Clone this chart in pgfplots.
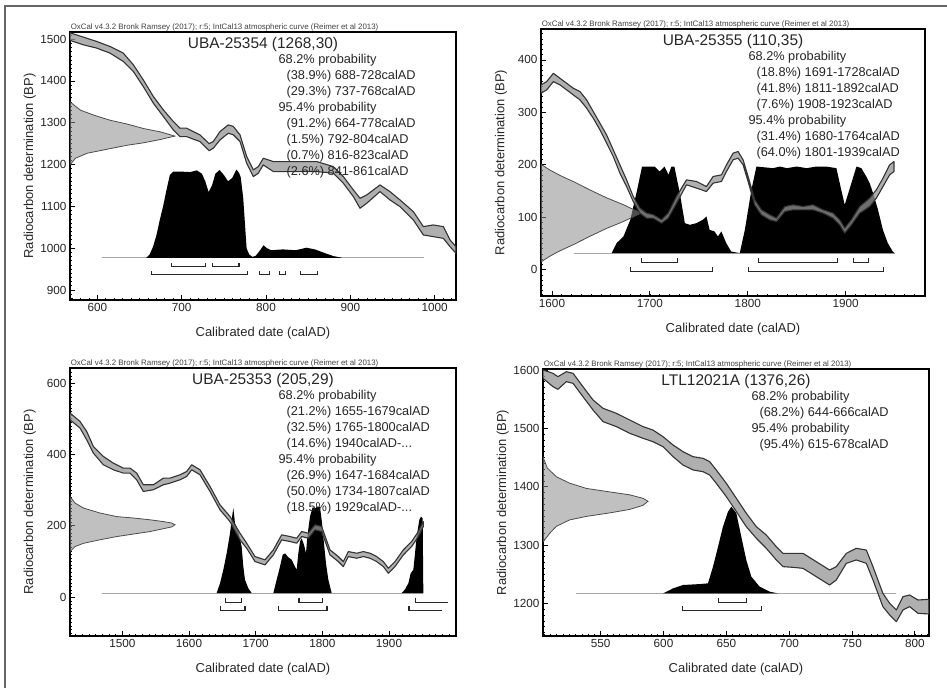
\documentclass[border=0pt]{standalone}
\usepackage{fontspec}
\setmainfont{Liberation Sans}
\usepackage{pgfplots}
\usepackage{pgfplotstable}
\pgfplotsset{compat=1.18}

% calibration curve bands as outlines: upper edge left to right, then lower edge back
\pgfplotstableread{
x y
567.6 1515
583.4 1504.8
599.2 1494.4
615.0 1482.4
630.8 1466.5
642.7 1438.5
654.5 1402.6
666.4 1362.7
678.3 1330.8
690.1 1302.9
698.0 1286.9
705.9 1286.9
713.8 1278.9
721.7 1270.9
732.5 1250.0
737.5 1255.0
745.5 1278.9
755.3 1294.9
761.3 1291.0
769.2 1270.9
777.1 1219.1
785.0 1187.2
790.9 1195.1
796.8 1215.1
808.7 1207.1
820.6 1207.1
840.3 1207.1
860.1 1207.1
879.8 1195.1
891.7 1171.2
903.6 1139.3
911.5 1119.3
919.4 1127.3
935.2 1151.2
947.0 1135.3
958.9 1115.3
974.7 1087.4
986.6 1051.5
998.4 1055.5
1010.3 1051.5
1018.2 1019.6
1025.3 1003.6
1025.3 987.6
1018.2 1003.6
1010.3 1023.5
998.4 1027.5
986.6 1031.5
974.7 1067.4
958.9 1099.4
947.0 1115.3
935.2 1135.3
919.4 1107.3
911.5 1095.4
903.6 1123.3
891.7 1155.2
879.8 1179.2
860.1 1183.2
840.3 1183.2
820.6 1183.2
808.7 1183.2
796.8 1199.1
790.9 1179.2
785.0 1171.2
777.1 1203.1
769.2 1255.0
761.3 1271.0
755.3 1274.9
745.5 1258.9
737.5 1239.0
732.5 1233.0
721.7 1255.0
713.8 1260.6
705.9 1266.9
698.0 1266.9
690.1 1282.9
678.3 1314.8
666.4 1346.8
654.5 1386.6
642.7 1422.6
630.8 1446.5
615.0 1466.5
599.2 1478.5
583.4 1486.4
567.6 1497
}\calA

\pgfplotstableread{
x y
1588.8 352.4
1594.6 358.7
1601.4 374.6
1608.2 365
1615 355.6
1621.8 346
1628.6 339.7
1635.4 323.8
1642.2 301.6
1649 279.4
1655.8 257.1
1662.6 228.6
1669.4 200
1676.2 171.4
1683 139.7
1689.8 117.5
1696.6 108
1703.4 104.8
1711.9 95.2
1718.7 108
1727.2 139.7
1737.4 171.4
1747.6 168.3
1757.8 158.7
1764.6 177.8
1773.1 181
1778.2 200
1785 222.2
1790.1 225.4
1795.2 209.5
1800.3 177.8
1807.1 133.3
1813.9 114.3
1822.4 104.8
1829.3 98.4
1837.8 120.6
1846.3 123.8
1856.5 120.6
1866.7 123.8
1876.9 114.3
1887.1 108
1893.9 95.2
1899 79.4
1905.8 95.2
1914.3 120.6
1924.5 136.5
1931.3 152.4
1938.1 174.6
1944.9 200
1949.3 206.3
1949.3 187.3
1944.9 181
1938.1 158.7
1931.3 136.5
1924.5 120.6
1914.3 108
1905.8 85.7
1899 69.8
1893.9 85.7
1887.1 98.4
1876.9 108
1866.7 114.3
1856.5 114.3
1846.3 114.3
1837.8 111.1
1829.3 92.1
1822.4 95.2
1813.9 104.8
1807.1 123.8
1800.3 168.3
1795.2 200
1790.1 212.7
1785 209.5
1778.2 187.3
1773.1 168.3
1764.6 165.1
1757.8 149.2
1747.6 155.6
1737.4 162
1727.2 127
1718.7 98.4
1711.9 88.9
1703.4 98.4
1696.6 98.4
1689.8 108
1683 130.2
1676.2 158.7
1669.4 184.1
1662.6 215.9
1655.8 241.3
1649 266.7
1642.2 288.9
1635.4 308
1628.6 323.8
1621.8 333.3
1615 342.9
1608.2 352.4
1601.4 358.7
1594.6 342.9
1588.8 336.5
}\calB

\pgfplotstableread{
x y
1421.5 515.9
1436.5 492.5
1446.5 464.5
1456.5 422.4
1471.5 394.4
1486.5 375.7
1501.5 361.7
1511.5 361.7
1521.5 347.7
1531.5 315
1546.5 315
1561.5 333.6
1571.5 333.6
1586.5 343
1596.5 352.3
1604 371
1616.5 357
1631.5 310.3
1646.5 258.9
1661.5 226.2
1676.5 179.4
1686.5 151.4
1699 114
1714 104.7
1726.5 132.7
1739 174.8
1751.5 170.1
1761.5 165.4
1769 184.1
1779 179.4
1789 202.8
1799 198.1
1811.5 132.7
1824 114
1831.5 100
1839 128
1851.5 123.4
1861.5 128
1871.5 123.4
1881.5 114
1891.5 100
1899 81.3
1909 100
1921.5 132.7
1934 156.1
1944 184.1
1951.5 212.1
1951.5 198.1
1944 170.1
1934 142.1
1921.5 118.7
1909 86
1899 67.3
1891.5 86
1881.5 100
1871.5 109.3
1861.5 114
1851.5 109.3
1839 114
1831.5 86
1824 100
1811.5 118.7
1799 184.1
1789 188.8
1779 165.4
1769 170.1
1761.5 151.4
1751.5 156.1
1739 160.7
1726.5 118.7
1714 90.7
1699 100
1686.5 137.4
1676.5 160.7
1661.5 212.1
1646.5 244.9
1631.5 296.3
1616.5 343
1604 357
1596.5 338.3
1586.5 329
1571.5 319.6
1561.5 315
1546.5 301
1531.5 296.3
1521.5 329
1511.5 347.7
1501.5 347.7
1486.5 357
1471.5 371
1456.5 403.7
1446.5 441.1
1436.5 473.8
1421.5 497.2
}\calC

\pgfplotstableread{
x y
504.1 1600
512 1594.3
516 1588.6
522.7 1597.1
528 1594.3
535.9 1571.4
543.9 1548.6
551.9 1534.3
562.5 1525.7
573.1 1514.3
583.7 1502.9
591.6 1497.1
599.6 1485.7
607.6 1471.4
615.5 1460
623.5 1451.4
631.4 1448.6
636.7 1442.9
642 1428.6
650 1405.7
658 1380
665.9 1354.3
673.9 1331.4
681.8 1317.1
689.8 1297.1
695.1 1285.7
703 1285.7
711 1285.7
721.6 1271.4
732.2 1257.1
737.5 1262.9
745.5 1285.7
753.4 1294.3
761.4 1291.4
766.7 1262.9
774.6 1217.1
780 1200
785.3 1188.6
790.6 1211.4
795.9 1214.3
802.5 1205.7
811.3 1206.9
811.3 1181.7
802.5 1182.9
795.9 1194.3
790.6 1188.6
785.3 1168.6
780 1180
774.6 1194.3
766.7 1240
761.4 1268.6
753.4 1274.3
745.5 1268.6
737.5 1240
732.2 1231.4
721.6 1245.7
711 1260
703 1261.7
695.1 1262.9
689.8 1274.3
681.8 1294.3
673.9 1311.4
665.9 1331.4
658 1357.1
650 1382.9
642 1405.7
636.7 1420
631.4 1425.7
623.5 1428.6
615.5 1437.1
607.6 1451.4
599.6 1468.6
591.6 1477.1
583.7 1482.9
573.1 1491.4
562.5 1502.9
551.9 1511.4
543.9 1531.4
535.9 1554.3
528 1577.1
522.7 1580
516 1566.9
512 1571.4
504.1 1585.7
}\calD

\pgfplotsset{
  oxcal/.style={
    scale only axis,
    clip mode=individual,
    axis line style={line width=1.3bp},
    tick align=inside, tick pos=left,
    major tick length=4.5bp, minor tick length=2.3bp,
    tick style={line width=0.8bp, black},
    minor tick style={line width=0.6bp},
    tick label style={font=\fontsize{11.8}{13}\selectfont, text=black!85},
    /pgf/number format/assume math mode=true,
    /pgf/number format/1000 sep={},
    label style={font=\fontsize{13}{15}\selectfont, text=black!85},
    xlabel={Calibrated date (calAD)},
    ylabel={Radiocarbon determination (BP)},
    xlabel style={at={(axis description cs:0.5,-0.123)}, anchor=center},
    ylabel style={at={(axis description cs:-0.104,0.5)}, anchor=center},
  },
  band/.style={fill=black!42, fill opacity=0.75, draw=black!80, line width=1.1bp, line join=round},
  gauss/.style={fill=black!45, fill opacity=0.55, draw=black!70, line width=0.8bp},
  baseln/.style={black!35, line width=0.8bp},
  brk/.style={black!85, line width=1.1bp},
}

\newcommand{\bracket}[4]{\addplot[brk] coordinates {(#1,#4) (#1,#3) (#2,#3) (#2,#4)};}
\newcommand{\header}{\node[anchor=south west, font=\fontsize{7.9}{8}\selectfont, text=black!75, inner sep=0.6bp]
  at (rel axis cs:0,1) {OxCal v4.3.2 Bronk Ramsey (2017); r:5; IntCal13 atmospheric curve (Reimer et al 2013)};}
\newcommand{\ptitle}[1]{\node[font=\fontsize{15.5}{17}\selectfont, text=black!85, inner sep=0pt] at (rel axis cs:0.5,1) [yshift=-13bp] {#1};}
\newcommand{\pline}[3]{\node[anchor=west, font=\fontsize{12.8}{14}\selectfont, text=black!85, inner sep=0pt] at (rel axis cs:0.54,1) [xshift=#1, yshift=#2] {#3};}

\begin{document}
\begin{tikzpicture}
\useasboundingbox (0,0) rectangle (947bp,688bp);
\draw[black!60, line width=2bp] (5bp,-2bp) -- (5bp,682bp) -- (950bp,682bp);

% ---------- UBA-25354 ----------
\begin{axis}[oxcal, at={(70bp,388bp)}, anchor=south west, width=386bp, height=268bp,
  xmin=567.6, xmax=1025.3, ymin=876, ymax=1517,
  xtick={600,700,...,1000}, ytick={900,1000,...,1500},
  minor xtick={570,580,...,1020}, minor ytick={880,890,...,1510}]
\addplot[baseln] coordinates {(605,977) (987,977)};
\addplot[fill=black, draw=none] coordinates {
(658,977) (662,985) (666,1003) (670,1030) (674,1067) (678,1100) (682,1139) (686,1175) (690,1183)
(700,1183) (710,1182) (718,1186) (724,1178) (728,1160) (732,1134) (736,1150) (740,1178) (745,1187)
(750,1175) (755,1160) (760,1168) (765,1188) (768,1180) (770,1170) (773,1120) (775,1060) (777,1000)
(780,985) (784,979) (788,982) (793,995) (797,1007) (801,1000) (806,995) (820,997) (835,995)
(848,1001) (858,997) (870,988) (880,981) (890,977)};
\addplot[gauss] coordinates {
(567.6,1350) (580,1330) (596,1318) (615,1306) (635,1297) (655,1286) (675,1278) (692,1268)
(675,1260) (655,1252) (635,1246) (615,1238) (588,1227) (574,1215) (567.6,1199)};
\addplot[band] table {\calA};
\bracket{688}{728}{956}{964}
\bracket{737}{768}{956}{964}
\bracket{664}{778}{936}{945}
\bracket{792}{804}{936}{945}
\bracket{816}{823}{936}{945}
\bracket{841}{861}{936}{945}
\header
\ptitle{UBA-25354 (1268,30)}
\pline{0bp}{-28bp}{68.2\% probability}
\pline{8bp}{-44bp}{(38.9\%) 688-728calAD}
\pline{8bp}{-60bp}{(29.3\%) 737-768calAD}
\pline{0bp}{-76bp}{95.4\% probability}
\pline{8bp}{-92bp}{(91.2\%) 664-778calAD}
\pline{8bp}{-108bp}{(1.5\%) 792-804calAD}
\pline{8bp}{-124bp}{(0.7\%) 816-823calAD}
\pline{8bp}{-140bp}{(2.6\%) 841-861calAD}
\end{axis}

% ---------- UBA-25355 ----------
\begin{axis}[oxcal, at={(541bp,392bp)}, anchor=south west, width=384bp, height=267bp,
  xmin=1588.8, xmax=1981, ymin=-50, ymax=459,
  xtick={1600,1700,1800,1900}, ytick={0,100,...,400},
  minor xtick={1590,1600,...,1980}, minor ytick={-40,-30,...,450}]
\addplot[baseln] coordinates {(1622,31.7) (1950,31.7)};
\addplot[fill=black, draw=none] coordinates {
(1661,31.7) (1666,50.8) (1673,63.5) (1680,95.2) (1687,152.4) (1692,196.8) (1700,196.8) (1705,196.8)
(1710,187.3) (1715,196.8) (1719,181) (1722,196.8) (1725,196.8) (1730.6,146) (1735.7,88.9)
(1740.8,85.7) (1747.6,88.9) (1754,95.2) (1757.8,101.6) (1761,76.2) (1766,73) (1769.5,63.5)
(1773,73) (1778,50.8) (1783,34.9) (1791.8,31.7) (1797,76.2) (1803.7,152.4) (1808.8,196.8)
(1825.8,193.7) (1832.6,196.8) (1840,193.7) (1850,196.8) (1860,193.7) (1870,196.8) (1880,196.8)
(1890.5,193.7) (1893.9,165.1) (1899,123.8) (1905.8,165.1) (1911,196.8) (1916,193.7) (1921,177.8)
(1924.5,165.1) (1928,146) (1933,114.3) (1938,76.2) (1943,50.8) (1948,34.9) (1950,31.7)};
\addplot[gauss] coordinates {
(1588.8,201) (1598,190) (1608,180) (1622,168) (1639,152) (1656,137) (1673,124) (1691,108)
(1673,92) (1656,79) (1639,64) (1622,48) (1608,36) (1598,26) (1588.8,15)};
\addplot[band] table {\calB};
\bracket{1691}{1728}{14.6}{22.2}
\bracket{1811}{1892}{14.6}{22.2}
\bracket{1908}{1923}{14.6}{22.2}
\bracket{1680}{1764}{-3.2}{5.1}
\bracket{1801}{1939}{-3.2}{5.1}
\header
\ptitle{UBA-25355 (110,35)}
\pline{0bp}{-28bp}{68.2\% probability}
\pline{8bp}{-44bp}{(18.8\%) 1691-1728calAD}
\pline{8bp}{-60bp}{(41.8\%) 1811-1892calAD}
\pline{8bp}{-76bp}{(7.6\%) 1908-1923calAD}
\pline{0bp}{-92bp}{95.4\% probability}
\pline{8bp}{-108bp}{(31.4\%) 1680-1764calAD}
\pline{8bp}{-124bp}{(64.0\%) 1801-1939calAD}
\end{axis}

% ---------- UBA-25353 ----------
\begin{axis}[oxcal, at={(70bp,52bp)}, anchor=south west, width=386bp, height=268bp,
  xmin=1421.5, xmax=2000.5, ymin=-108.4, ymax=642,
  xtick={1500,1600,...,1900}, ytick={0,200,400,600},
  minor xtick={1430,1440,...,2000}, minor ytick={-100,-90,...,640}]
\addplot[baseln] coordinates {(1469,12) (1951.5,12)};
\addplot[fill=black, draw=none] coordinates {
(1641.5,12) (1646.5,39) (1651.5,77) (1656.5,123) (1661.5,179) (1664,217) (1666.5,250) (1669,207)
(1674,184) (1679,142) (1681.5,86) (1684,49) (1689,25) (1694,12)};
\addplot[fill=black, draw=none] coordinates {
(1726.5,12) (1731.5,49) (1736.5,86) (1740.5,119) (1744,123) (1749,112) (1754,105) (1759,86)
(1761.5,77) (1764,123) (1766.5,156) (1769,165) (1772.5,147) (1775.5,123) (1777.5,170) (1781.5,226)
(1785.5,252) (1789,249) (1792.5,254) (1796.5,252) (1799,217) (1802.5,151) (1805.5,95) (1809,49)
(1814,12)};
\addplot[fill=black, draw=none] coordinates {
(1919,12) (1924,22) (1929,39) (1932.5,67) (1936.5,77) (1939,123) (1941.5,170) (1945.5,217)
(1948,226) (1950.5,221) (1951.5,12)};
\addplot[gauss] coordinates {
(1421.5,282) (1429,264) (1441.5,250) (1466.5,236) (1491.5,226) (1516.5,222) (1541.5,217)
(1561.5,212) (1574,208) (1579,203) (1574,197) (1561.5,192) (1541.5,184) (1516.5,177)
(1491.5,170) (1466.5,161) (1441.5,151) (1429,142) (1421.5,128)};
\addplot[band] table {\calC};
\bracket{1655}{1679}{-15}{-1}
\bracket{1765}{1800}{-15}{-1}
\addplot[brk] coordinates {(1940,-1) (1940,-15) (1989,-15)};
\bracket{1647}{1684}{-37}{-24}
\bracket{1734}{1807}{-37}{-24}
\addplot[brk] coordinates {(1930,-24) (1930,-37) (1979,-37)};
\header
\ptitle{UBA-25353 (205,29)}
\pline{0bp}{-28bp}{68.2\% probability}
\pline{8bp}{-44bp}{(21.2\%) 1655-1679calAD}
\pline{8bp}{-60bp}{(32.5\%) 1765-1800calAD}
\pline{8bp}{-76bp}{(14.6\%) 1940calAD-...}
\pline{0bp}{-92bp}{95.4\% probability}
\pline{8bp}{-108bp}{(26.9\%) 1647-1684calAD}
\pline{8bp}{-124bp}{(50.0\%) 1734-1807calAD}
\pline{8bp}{-140bp}{(18.5\%) 1929calAD-...}
\end{axis}

% ---------- LTL12021A ----------
\begin{axis}[oxcal, at={(543bp,52bp)}, anchor=south west, width=386bp, height=267bp,
  xmin=504.1, xmax=811.3, ymin=1144, ymax=1601.7,
  xtick={550,600,...,800}, ytick={1200,1300,...,1600},
  minor xtick={505,510,...,810}, minor ytick={1150,1160,...,1600}]
\addplot[baseln] coordinates {(530,1217) (785,1217)};
\addplot[fill=black, draw=none] coordinates {
(599.6,1217) (607.6,1225.7) (615.5,1231.4) (628.8,1233) (635.4,1234.3) (639.4,1262.9) (643.4,1297)
(647.3,1331.4) (651.3,1357) (654,1365.7) (658,1354.3) (661.9,1314.3) (665.9,1274.3) (669.9,1245.7)
(676.5,1228.6) (684.5,1220) (691.1,1217)};
\addplot[gauss] coordinates {
(504.1,1451) (507.5,1432) (514.7,1417) (525.3,1406) (538.6,1397) (557.2,1391) (573.1,1386)
(583.7,1380) (587.7,1375) (583.7,1368) (573.1,1361) (557.2,1355) (538.6,1349) (525.3,1343)
(514.7,1332) (509.4,1320) (504.1,1305)};
\addplot[band] table {\calD};
\bracket{644}{666}{1201}{1208.6}
\bracket{615}{678}{1187.4}{1195.4}
\header
\ptitle{LTL12021A (1376,26)}
\pline{0bp}{-28bp}{68.2\% probability}
\pline{8bp}{-44bp}{(68.2\%) 644-666calAD}
\pline{0bp}{-60bp}{95.4\% probability}
\pline{8bp}{-76bp}{(95.4\%) 615-678calAD}
\end{axis}
\end{tikzpicture}
\end{document}
